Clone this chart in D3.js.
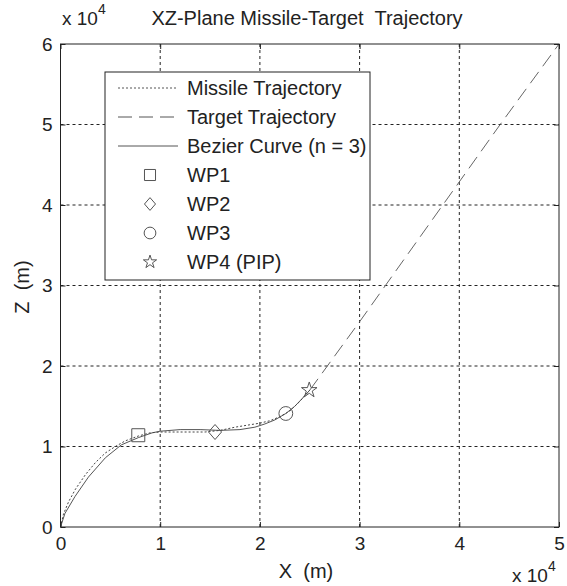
<!DOCTYPE html>
<html>
<head>
<meta charset="utf-8">
<script src="https://cdn.jsdelivr.net/npm/d3@7"></script>
<style>
  body { margin: 0; background: #fff; }
  svg text { font-family: "Liberation Sans", Arial, sans-serif; fill: #222; }
</style>
</head>
<body>
<svg id="chart"></svg>
<script>
// values are in units of 1e4 m
const xTicks = [0, 1, 2, 3, 4, 5];
const zTicks = [0, 1, 2, 3, 4, 5, 6];

const missileX = [0, 0.03, 0.08, 0.15, 0.25, 0.35, 0.45, 0.55, 0.65, 0.78, 0.9, 1.0, 1.2, 1.45, 1.6, 1.75, 1.9, 2.0, 2.1, 2.2, 2.3, 2.4, 2.5];
const missileZ = [0, 0.16, 0.31, 0.47, 0.65, 0.8, 0.92, 1.0, 1.07, 1.13, 1.17, 1.18, 1.18, 1.18, 1.2, 1.24, 1.27, 1.29, 1.32, 1.37, 1.44, 1.56, 1.70];

const targetX = [2.5, 3.0, 4.41, 5.0];
const targetZ = [1.7, 2.55, 5.0, 6.0];

const bezierX = [0, 0.045, 0.146, 0.28, 0.45, 0.61, 0.78, 0.92, 1.0, 1.2, 1.4, 1.6, 1.8, 1.95, 2.05, 2.15, 2.26, 2.35, 2.42, 2.5];
const bezierZ = [0, 0.17, 0.38, 0.62, 0.86, 1.02, 1.11, 1.17, 1.19, 1.21, 1.21, 1.2, 1.21, 1.24, 1.28, 1.33, 1.41, 1.5, 1.59, 1.70];

const wpNames = ["WP1", "WP2", "WP3", "WP4 (PIP)"];
const wpX = [0.78, 1.55, 2.26, 2.495];
const wpZ = [1.14, 1.18, 1.41, 1.70];

const width = 567, height = 586;
const margin = { top: 44, right: 8, bottom: 59, left: 60.5 };
const font = "'Liberation Sans', Arial, sans-serif";

const svg = d3.select("#chart").attr("width", width).attr("height", height);

const x = d3.scaleLinear().domain([0, 5]).range([margin.left, width - margin.right]);
const z = d3.scaleLinear().domain([0, 6]).range([height - margin.bottom, margin.top]);

// grid
const grid = svg.append("g").attr("stroke", "#222").attr("stroke-width", 1).attr("stroke-dasharray", "3,3");
xTicks.slice(1, -1).forEach(t => {
  grid.append("line").attr("x1", x(t)).attr("x2", x(t)).attr("y1", z(0)).attr("y2", z(6));
});
zTicks.slice(1, -1).forEach(t => {
  grid.append("line").attr("x1", x(0)).attr("x2", x(5)).attr("y1", z(t)).attr("y2", z(t));
});

// curves
const line = d3.line().x(d => x(d[0])).y(d => z(d[1]));
const zip = (a, b) => a.map((v, i) => [v, b[i]]);

svg.append("path").datum(zip(bezierX, bezierZ)).attr("d", line)
  .attr("fill", "none").attr("stroke", "#555").attr("stroke-width", 1);
svg.append("path").datum(zip(missileX, missileZ)).attr("d", line)
  .attr("fill", "none").attr("stroke", "#444").attr("stroke-width", 1).attr("stroke-dasharray", "2,2");
svg.append("path").datum(zip(targetX, targetZ)).attr("d", line)
  .attr("fill", "none").attr("stroke", "#666").attr("stroke-width", 1).attr("stroke-dasharray", "14,7");

// waypoint markers
const symbols = [d3.symbolSquare, "diamond", d3.symbolCircle, d3.symbolStar];
function marker(i, k) {
  if (symbols[i] === "diamond") return `M0,${-7.5 * k}L${6.5 * k},0L0,${7.5 * k}L${-6.5 * k},0Z`;
  const sizes = [169, 0, 150, 75];
  return d3.symbol().type(symbols[i]).size(sizes[i] * k * k)();
}
wpX.forEach((v, i) => {
  svg.append("path")
    .attr("d", marker(i, 1))
    .attr("transform", `translate(${x(v)},${z(wpZ[i])})`)
    .attr("fill", "none").attr("stroke", "#555").attr("stroke-width", 1);
});

// axes box and inside ticks
svg.append("rect").attr("x", x(0)).attr("y", z(6)).attr("width", x(5) - x(0)).attr("height", z(0) - z(6))
  .attr("fill", "none").attr("stroke", "#222").attr("stroke-width", 1);

const axB = svg.append("g").attr("transform", `translate(0,${z(0)})`)
  .call(d3.axisBottom(x).tickValues(xTicks).tickSizeInner(-5).tickSizeOuter(0).tickPadding(10).tickFormat(d3.format("d")));
const axT = svg.append("g").attr("transform", `translate(0,${z(6)})`)
  .call(d3.axisTop(x).tickValues(xTicks).tickSizeInner(-5).tickSizeOuter(0).tickFormat(""));
const axL = svg.append("g").attr("transform", `translate(${x(0)},0)`)
  .call(d3.axisLeft(z).tickValues(zTicks).tickSizeInner(-5).tickSizeOuter(0).tickPadding(8).tickFormat(d3.format("d")));
const axR = svg.append("g").attr("transform", `translate(${x(5)},0)`)
  .call(d3.axisRight(z).tickValues(zTicks).tickSizeInner(-5).tickSizeOuter(0).tickFormat(""));
[axB, axT, axL, axR].forEach(a => {
  a.select(".domain").remove();
  a.selectAll("line").attr("stroke", "#222");
  a.selectAll("text").attr("font-size", 19).attr("fill", "#222").style("font-family", font);
});

// title, labels, exponent
svg.append("text").attr("x", 307).attr("y", 25).attr("text-anchor", "middle")
  .attr("font-size", 20).text("XZ-Plane Missile-Target  Trajectory").style("white-space", "pre");
svg.append("text").attr("x", 306).attr("y", 578).attr("text-anchor", "middle")
  .attr("font-size", 20).text("X  (m)").style("white-space", "pre");
svg.append("text").attr("transform", "translate(29,287) rotate(-90)").attr("text-anchor", "middle")
  .attr("font-size", 20).text("Z  (m)").style("white-space", "pre");

function expLabel(px, py) {
  const t = svg.append("text").attr("x", px).attr("y", py).attr("font-size", 19);
  t.append("tspan").text("x 10");
  t.append("tspan").attr("dy", -11).attr("font-size", 14).text("4");
}
expLabel(62, 25);
expLabel(512, 582);

// legend
const lg = svg.append("g");
lg.append("rect").attr("x", 105).attr("y", 72).attr("width", 265).attr("height", 208)
  .attr("fill", "#fff").attr("stroke", "#222").attr("stroke-width", 1);
const lineNames = ["Missile Trajectory", "Target Trajectory", "Bezier Curve (n = 3)"];
const dashes = ["2,2", "14,7", null];
const rowY = [88, 117, 146, 175, 204, 233, 262];
lineNames.forEach((n, i) => {
  const l = lg.append("line").attr("x1", 118).attr("x2", 178).attr("y1", rowY[i]).attr("y2", rowY[i])
    .attr("stroke", "#555").attr("stroke-width", 1);
  if (dashes[i]) l.attr("stroke-dasharray", dashes[i]);
  lg.append("text").attr("x", 187).attr("y", rowY[i] + 7).attr("font-size", 20).text(n);
});
wpNames.forEach((n, i) => {
  const yy = rowY[i + 3];
  lg.append("path")
    .attr("d", marker(i, 0.85))
    .attr("transform", `translate(150,${yy})`)
    .attr("fill", "none").attr("stroke", "#555").attr("stroke-width", 1);
  lg.append("text").attr("x", 187).attr("y", yy + 7).attr("font-size", 20).text(n);
});
</script>
</body>
</html>
